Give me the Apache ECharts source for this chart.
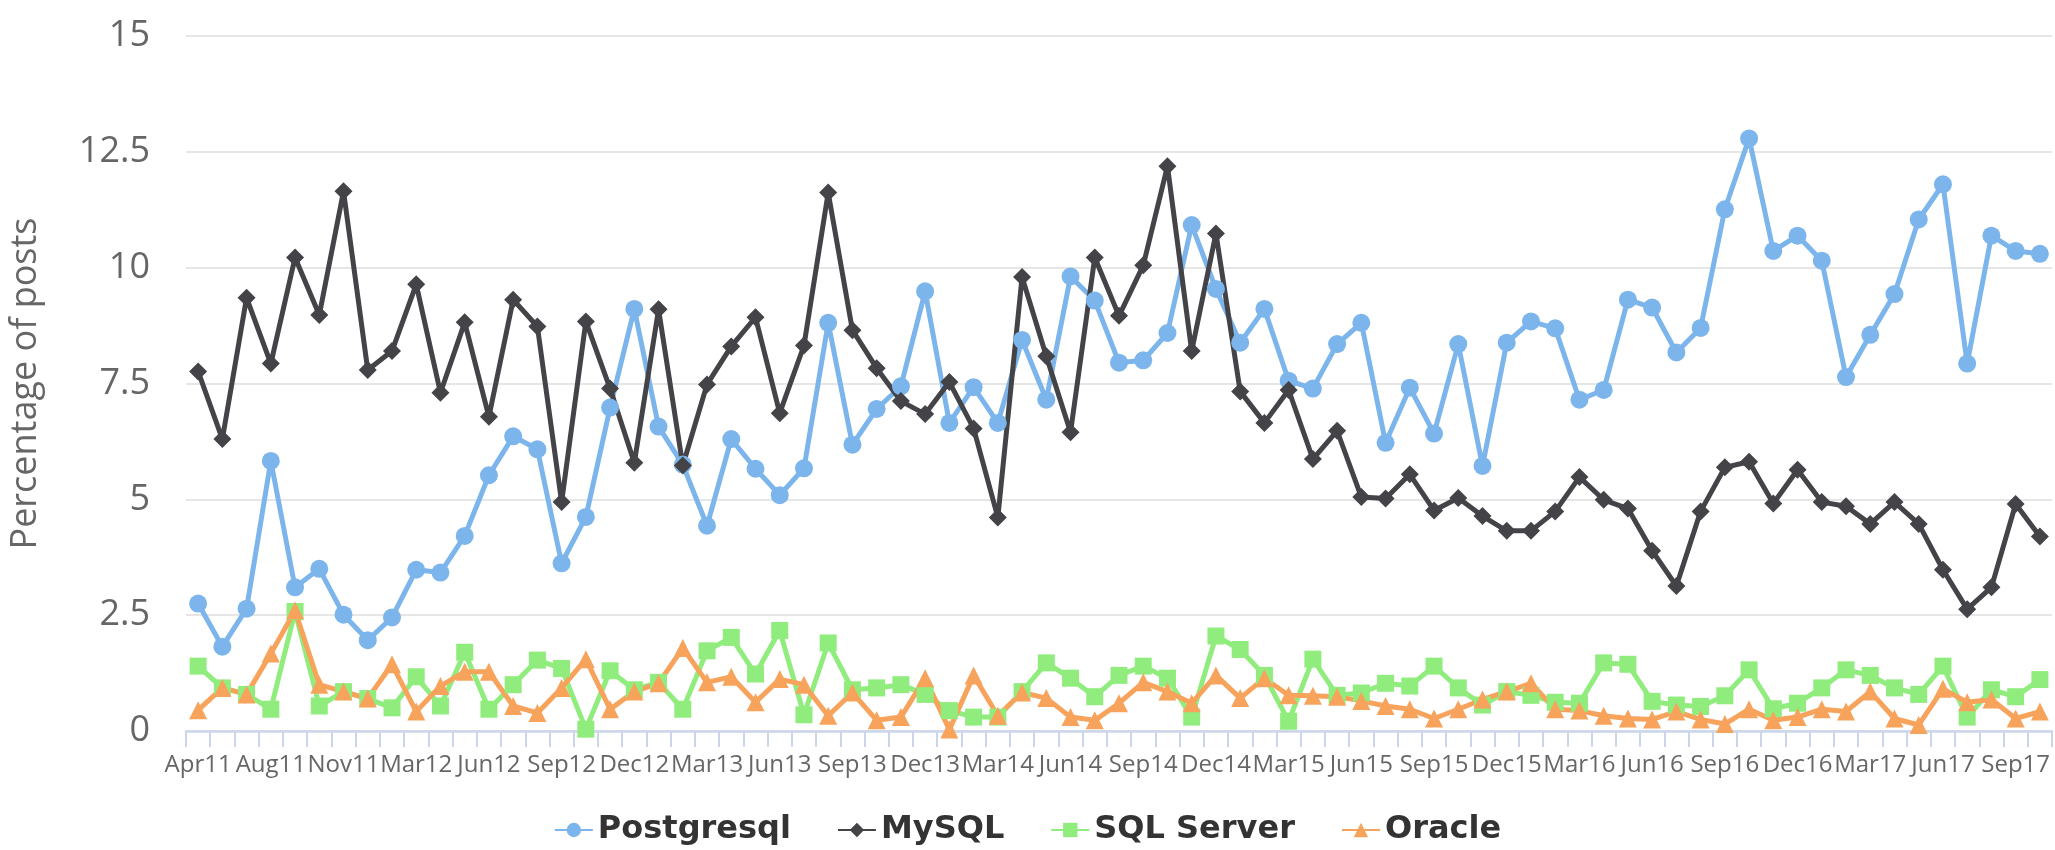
<!DOCTYPE html>
<html>
<head>
<meta charset="utf-8">
<title>Percentage of posts</title>
<script src="https://cdn.jsdelivr.net/npm/echarts@6/dist/echarts.min.js"></script>
<style>
    html, body { margin: 0; padding: 0; background: #fff; }
    #main-chart { width: 2055px; height: 850px; }
</style>
</head>
<body>
<div id="main-chart"></div>
<script>
var mainChart;

var months = ['Apr11', 'May11', 'Jun11', 'Aug11', 'Sep11', 'Oct11', 'Nov11', 'Dec11', 'Jan12',
    'Mar12', 'Apr12', 'May12', 'Jun12', 'Jul12', 'Aug12', 'Sep12', 'Oct12', 'Nov12', 'Dec12',
    'Jan13', 'Feb13', 'Mar13', 'Apr13', 'May13', 'Jun13', 'Jul13', 'Aug13', 'Sep13', 'Oct13', 'Nov13', 'Dec13',
    'Jan14', 'Feb14', 'Mar14', 'Apr14', 'May14', 'Jun14', 'Jul14', 'Aug14', 'Sep14', 'Oct14', 'Nov14', 'Dec14',
    'Jan15', 'Feb15', 'Mar15', 'Apr15', 'May15', 'Jun15', 'Jul15', 'Aug15', 'Sep15', 'Oct15', 'Nov15', 'Dec15',
    'Jan16', 'Feb16', 'Mar16', 'Apr16', 'May16', 'Jun16', 'Jul16', 'Aug16', 'Sep16', 'Oct16', 'Nov16', 'Dec16',
    'Jan17', 'Feb17', 'Mar17', 'Apr17', 'May17', 'Jun17', 'Jul17', 'Aug17', 'Sep17', 'Oct17'];

var postgresql = [2.75, 1.82, 2.64, 5.83, 3.10, 3.50, 2.51, 1.96, 2.45, 3.48,
    3.42, 4.21, 5.52, 6.36, 6.08, 3.62, 4.62, 6.98, 9.11, 6.57,
    5.75, 4.43, 6.30, 5.66, 5.09, 5.67, 8.81, 6.18, 6.95, 7.44,
    9.49, 6.65, 7.42, 6.65, 8.44, 7.15, 9.81, 9.29, 7.95, 8.00,
    8.59, 10.92, 9.54, 8.38, 9.11, 7.56, 7.39, 8.35, 8.81, 6.22,
    7.41, 6.42, 8.35, 5.72, 8.38, 8.84, 8.69, 7.15, 7.36, 9.31,
    9.14, 8.17, 8.70, 11.26, 12.79, 10.36, 10.69, 10.15, 7.64, 8.55,
    9.43, 11.04, 11.80, 7.93, 10.69, 10.36, 10.30];

var mysql = [7.76, 6.30, 9.35, 7.93, 10.22, 8.98, 11.65, 7.79, 8.20, 9.64,
    7.30, 8.82, 6.78, 9.31, 8.73, 4.94, 8.84, 7.39, 5.79, 9.10,
    5.73, 7.48, 8.30, 8.93, 6.86, 8.32, 11.62, 8.65, 7.83, 7.12,
    6.84, 7.53, 6.53, 4.61, 9.80, 8.09, 6.45, 10.22, 8.96, 10.05,
    12.19, 8.20, 10.74, 7.33, 6.65, 7.36, 5.87, 6.48, 5.05, 5.02,
    5.54, 4.76, 5.03, 4.64, 4.32, 4.32, 4.74, 5.48, 4.99, 4.80,
    3.89, 3.13, 4.74, 5.69, 5.81, 4.91, 5.64, 4.94, 4.85, 4.47,
    4.94, 4.47, 3.48, 2.63, 3.10, 4.90, 4.20];

var sqlServer = [1.40, 0.93, 0.79, 0.47, 2.58, 0.54, 0.85, 0.70, 0.50, 1.17,
    0.54, 1.70, 0.47, 1.00, 1.53, 1.35, 0.04, 1.30, 0.89, 1.05,
    0.47, 1.73, 2.02, 1.23, 2.17, 0.35, 1.90, 0.89, 0.93, 1.00,
    0.79, 0.44, 0.30, 0.30, 0.85, 1.47, 1.14, 0.74, 1.20, 1.40,
    1.14, 0.30, 2.05, 1.76, 1.20, 0.21, 1.55, 0.77, 0.82, 1.03,
    0.97, 1.40, 0.93, 0.56, 0.85, 0.77, 0.62, 0.60, 1.47, 1.44,
    0.64, 0.56, 0.53, 0.76, 1.32, 0.48, 0.60, 0.93, 1.32, 1.20,
    0.93, 0.79, 1.40, 0.30, 0.89, 0.74, 1.11];

var oracle = [0.45, 0.93, 0.79, 1.67, 2.60, 1.00, 0.85, 0.70, 1.44, 0.42,
    0.97, 1.28, 1.28, 0.54, 0.39, 0.93, 1.55, 0.47, 0.85, 1.03,
    1.79, 1.05, 1.17, 0.62, 1.12, 1.00, 0.33, 0.83, 0.23, 0.30,
    1.14, 0.03, 1.20, 0.33, 0.83, 0.71, 0.30, 0.23, 0.60, 1.05,
    0.85, 0.60, 1.20, 0.71, 1.14, 0.77, 0.76, 0.74, 0.65, 0.54,
    0.47, 0.27, 0.47, 0.68, 0.85, 1.03, 0.47, 0.44, 0.33, 0.27,
    0.25, 0.42, 0.25, 0.15, 0.47, 0.23, 0.30, 0.47, 0.42, 0.85,
    0.27, 0.13, 0.91, 0.62, 0.68, 0.27, 0.42];

var yTicks = { min: 0, max: 15, step: 2.5 };

window.onload = function () {
    chartInit();
}

function makeSeries(name, data, color, symbol, size) {
    return {
        name: name,
        type: 'line',
        data: data,
        symbol: symbol,
        symbolSize: size,
        showSymbol: true,
        showAllSymbol: true,
        lineStyle: { color: color, width: 5 },
        itemStyle: { color: color },
        emphasis: { disabled: true }
    };
}

function chartInit() {
    mainChart = echarts.init(document.getElementById('main-chart'));

    var mainOpt = {
        animation: false,
        grid: { left: 183, right: 3, top: 36, bottom: 119 },
        legend: {
            top: 809,
            left: 'center',
            itemGap: 46,
            itemWidth: 38,
            itemHeight: 18,
            textStyle: { fontFamily: 'DejaVu Sans', fontWeight: 'bold', fontSize: 32, color: '#333' },
            data: ['Postgresql', 'MySQL', 'SQL Server', 'Oracle']
        },
        xAxis: {
            type: 'category',
            data: months,
            boundaryGap: true,
            axisLine: { lineStyle: { color: '#ccd6eb', width: 2.5 } },
            axisTick: { show: true, interval: 0, length: 16, lineStyle: { color: '#ccd6eb', width: 2 } },
            axisLabel: {
                interval: 2,
                margin: 22,
                fontFamily: 'Open Sans',
                fontSize: 24,
                color: '#666'
            },
            splitLine: { show: false }
        },
        yAxis: {
            type: 'value',
            min: yTicks.min,
            max: yTicks.max,
            interval: yTicks.step,
            name: 'Percentage of posts',
            nameLocation: 'middle',
            nameGap: 142,
            nameTextStyle: { fontFamily: 'Open Sans', fontSize: 36, color: '#666' },
            axisLine: { show: false },
            axisTick: { show: false },
            axisLabel: { margin: 36, fontFamily: 'Open Sans', fontSize: 36, color: '#666' },
            splitLine: { lineStyle: { color: '#e6e6e6', width: 2 } }
        },
        series: [
            makeSeries('Postgresql', postgresql, '#7cb5ec', 'circle', 18),
            makeSeries('MySQL', mysql, '#434348', 'diamond', 18),
            makeSeries('SQL Server', sqlServer, '#90ed7d', 'rect', 17),
            makeSeries('Oracle', oracle, '#f7a35c', 'triangle', 18)
        ]
    };

    mainChart.setOption(mainOpt);
}
</script>
</body>
</html>
